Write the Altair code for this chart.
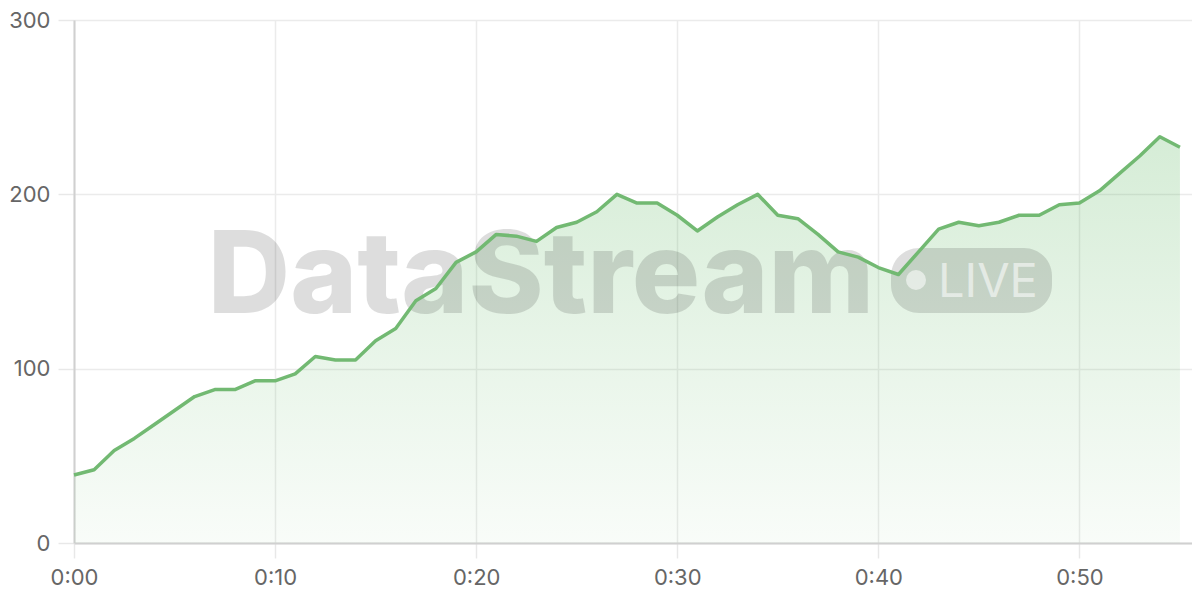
import altair as alt
import pandas as pd

minutes = list(range(56))
values = [39, 42, 53, 60, 68, 76, 84, 88, 88, 93, 93, 97, 107, 105, 105, 116, 123, 139, 146, 161,
          167, 177, 176, 173, 181, 184, 190, 200, 195, 195, 188, 179, 187, 194, 200, 188, 186, 177,
          167, 164, 158, 154, 167, 180, 184, 182, 184, 188, 188, 194, 195, 202, 212, 222, 233, 227]
x_ticks = [0, 10, 20, 30, 40, 50]
y_ticks = [0, 100, 200, 300]

df = pd.DataFrame({"minute": minutes, "value": values})

FONT = "Inter"

x_enc = alt.X("minute:Q",
              scale=alt.Scale(domain=[0, 55.6], nice=False, zero=False),
              axis=alt.Axis(values=x_ticks, title=None,
                            labelExpr="'0:' + (datum.value < 10 ? '0' : '') + datum.value",
                            labelFontSize=22, labelColor="#666666", labelFont=FONT,
                            labelFlush=False, labelOverlap=False,
                            labelPadding=9, tickSize=15, tickColor="#e8e8e8", tickWidth=1.5,
                            grid=True, gridColor="#ebebeb", gridWidth=1.5,
                            domainColor="#d0d0d0", domainWidth=2))
y_enc = alt.Y("value:Q",
              scale=alt.Scale(domain=[0, 300], nice=False),
              axis=alt.Axis(values=y_ticks, title=None,
                            labelFontSize=22, labelColor="#666666", labelFont=FONT,
                            labelFlush=False, labelOverlap=False,
                            labelPadding=8, tickSize=16, tickColor="#e8e8e8", tickWidth=1.5,
                            grid=True, gridColor="#ebebeb", gridWidth=1.5,
                            domainColor="#d0d0d0", domainWidth=2))

base = alt.Chart(df)

area = base.mark_area(
    color=alt.Gradient(
        gradient="linear",
        stops=[alt.GradientStop(color="rgba(76,175,80,0.035)", offset=0),
               alt.GradientStop(color="rgba(76,175,80,0.23)", offset=1)],
        x1=1, x2=1, y1=1, y2=0),
    interpolate="linear",
).encode(x=x_enc, y=y_enc)

line = base.mark_line(color="#72b972", strokeWidth=3.5, strokeJoin="round").encode(
    x="minute:Q", y="value:Q")

wm = pd.DataFrame({"t": ["DataStream"]})
brand = alt.Chart(wm).mark_text(
    font=FONT, fontSize=114, fontWeight=800, color="#000000", opacity=0.13,
    align="center", baseline="alphabetic"
).encode(x=alt.value(467), y=alt.value(293), text="t:N")

pill = alt.Chart(wm).mark_rect(
    color="#000000", opacity=0.13, cornerRadius=28
).encode(x=alt.value(817), x2=alt.value(978), y=alt.value(228), y2=alt.value(293))

dot = alt.Chart(wm).mark_point(
    shape="circle", filled=True, size=400, color="#ffffff", opacity=0.55
).encode(x=alt.value(842), y=alt.value(260))

live_df = pd.DataFrame({"t": ["LIVE"]})
live = alt.Chart(live_df).mark_text(
    font=FONT, fontSize=47, fontWeight=400, color="#ffffff", opacity=0.55,
    align="left", baseline="alphabetic"
).encode(x=alt.value(864), y=alt.value(277), text="t:N")

chart = alt.layer(area, brand, pill, dot, live, line).properties(
    width=1118, height=523,
    autosize=alt.AutoSizeParams(type="none"),
    padding={"left": 66, "top": 12, "right": 0, "bottom": 49},
).configure_view(stroke=None).configure(background="#ffffff")

chart.save("out.html", embed_options={"renderer": "svg", "actions": False})
